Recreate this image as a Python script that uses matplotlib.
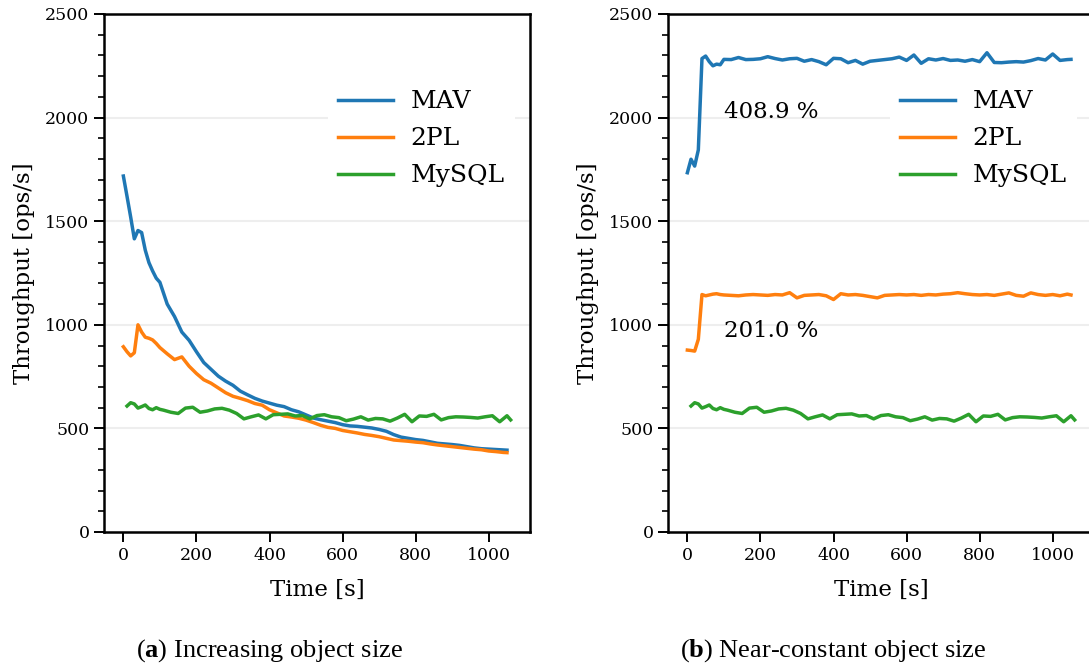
import matplotlib
matplotlib.use("Agg")
import matplotlib.pyplot as plt
from matplotlib.ticker import MultipleLocator

plt.rcParams['mathtext.fontset'] = 'custom'
plt.rcParams['mathtext.rm'] = 'Liberation Serif'
plt.rcParams['mathtext.bf'] = 'Liberation Serif:bold'

# time stamps [s]
time = [0, 10, 20, 30, 40, 50, 60, 70, 80, 90, 100] + list(range(120, 1041, 20)) + [1050]
time_mysql = [t + 10 for t in time]

# (a) increasing object size
mav_a = [1718, 1620, 1520, 1415, 1455, 1445, 1360, 1300, 1260, 1225, 1205,
         1100, 1040, 965, 925, 870, 818, 785, 752, 728, 708, 680, 662, 645, 632, 622,
         612, 605, 590, 580, 565, 550, 542, 535, 528, 518, 512, 510, 506, 502, 495,
         486, 470, 458, 452, 446, 442, 435, 428, 425, 422, 418, 412, 406, 402, 400,
         398, 396, 395]
tpl_a = [894, 870, 850, 865, 1000, 965, 940, 935, 927, 910, 890,
         860, 832, 845, 800, 765, 735, 718, 695, 672, 655, 645, 634, 620, 612, 590,
         575, 560, 555, 549, 540, 528, 515, 505, 500, 490, 484, 478, 471, 466, 460,
         452, 444, 441, 438, 434, 431, 425, 420, 416, 412, 408, 404, 400, 397, 391,
         388, 384, 383]

# (b) near-constant object size
mav_b = [1734, 1799, 1766, 1844, 2285, 2297, 2270, 2250, 2258, 2255, 2281,
         2280, 2290, 2280, 2281, 2284, 2294, 2285, 2278, 2284, 2286, 2272, 2280, 2270,
         2255, 2286, 2284, 2265, 2276, 2258, 2272, 2276, 2280, 2284, 2292, 2276, 2302,
         2262, 2284, 2278, 2285, 2276, 2278, 2272, 2280, 2270, 2313, 2266, 2265, 2268,
         2270, 2268, 2275, 2285, 2278, 2307, 2276, 2280, 2281]
tpl_b = [878, 876, 873, 930, 1146, 1140, 1144, 1148, 1150, 1146, 1144,
         1142, 1140, 1144, 1146, 1144, 1142, 1146, 1144, 1155, 1130, 1142, 1144, 1146,
         1140, 1122, 1150, 1144, 1146, 1142, 1136, 1130, 1142, 1144, 1146, 1144, 1146,
         1142, 1146, 1144, 1148, 1150, 1155, 1150, 1146, 1144, 1146, 1142, 1148, 1154,
         1142, 1138, 1154, 1146, 1142, 1146, 1140, 1148, 1144]

# MySQL (same in both panels)
mysql = [608, 624, 618, 598, 605, 613, 596, 590, 600, 592, 588,
         578, 572, 598, 602, 578, 584, 594, 597, 588, 572, 546, 556, 565, 546, 566,
         568, 570, 560, 562, 546, 562, 566, 556, 552, 537, 545, 556, 540, 548, 546,
         535, 550, 568, 532, 560, 558, 568, 541, 552, 556, 555, 553, 550, 556, 561,
         532, 561, 541]

labels = ["MAV", "2PL", "MySQL"]
colors = ["#1f77b4", "#ff7f0e", "#2ca02c"]
annot_b = ["408.9 %", "201.0 %"]
annot_pos = [(99, 2025), (99, 968)]
captions = [("a", "Increasing object size"), ("b", "Near-constant object size")]

fig = plt.figure(figsize=(10.89, 6.66), dpi=100)
ax_a = fig.add_axes([104 / 1089, 1 - 532 / 666, 426 / 1089, 518 / 666])
ax_b = fig.add_axes([668 / 1089, 1 - 532 / 666, 426 / 1089, 518 / 666])

serif = "DejaVu Serif"
for ax, series, lx in ((ax_a, (mav_a, tpl_a), 0.526), (ax_b, (mav_b, tpl_b), 0.521)):
    ax.plot(time, series[0], color=colors[0], lw=2.5, label=labels[0])
    ax.plot(time, series[1], color=colors[1], lw=2.5, label=labels[1])
    ax.plot(time_mysql, mysql, color=colors[2], lw=2.5, label=labels[2])
    ax.set_ylim(0, 2500)
    ax.set_xlim(-53, 1113)
    ax.yaxis.set_major_locator(MultipleLocator(500))
    ax.yaxis.set_minor_locator(MultipleLocator(100))
    ax.xaxis.set_major_locator(MultipleLocator(200))
    ax.grid(axis='y', which='major', color='#eeeeee', lw=1.5, zorder=0)
    ax.set_axisbelow(True)
    for s in ax.spines.values():
        s.set_linewidth(1.8)
        s.set_color('black')
    ax.tick_params(axis='both', which='major', direction='out', length=7, width=1.4,
                   labelsize=12.5, top=False, right=False)
    ax.tick_params(axis='y', which='minor', direction='out', length=4.5, width=1.2, right=False)
    for lab in ax.get_xticklabels() + ax.get_yticklabels():
        lab.set_fontfamily(serif)
    ax.set_xlabel("Time [s]", fontsize=16.5, fontfamily=serif, labelpad=11)
    ax.set_ylabel("Throughput [ops/s]", fontsize=16.5, fontfamily=serif, labelpad=7)
    ax.legend(loc='upper left', bbox_to_anchor=(lx, 0.872),
              prop={'family': serif, 'size': 18}, frameon=True, edgecolor='none',
              facecolor='white', framealpha=1, handlelength=2.2, handletextpad=0.7,
              labelspacing=0.56, borderaxespad=0.0, borderpad=0.4)

for txt, (x, y) in zip(annot_b, annot_pos):
    ax_b.text(x, y, txt, fontsize=16.5, fontfamily=serif, va='center', ha='left')

for (letter, cap), cx in ((captions[0], 269), (captions[1], 833)):
    fig.text(cx / 1089, 1 - 651 / 666, r"($\mathbf{%s}$) %s" % (letter, cap),
             fontsize=19, fontfamily='Liberation Serif', ha='center', va='center')

fig.savefig("out.png", dpi=100)
